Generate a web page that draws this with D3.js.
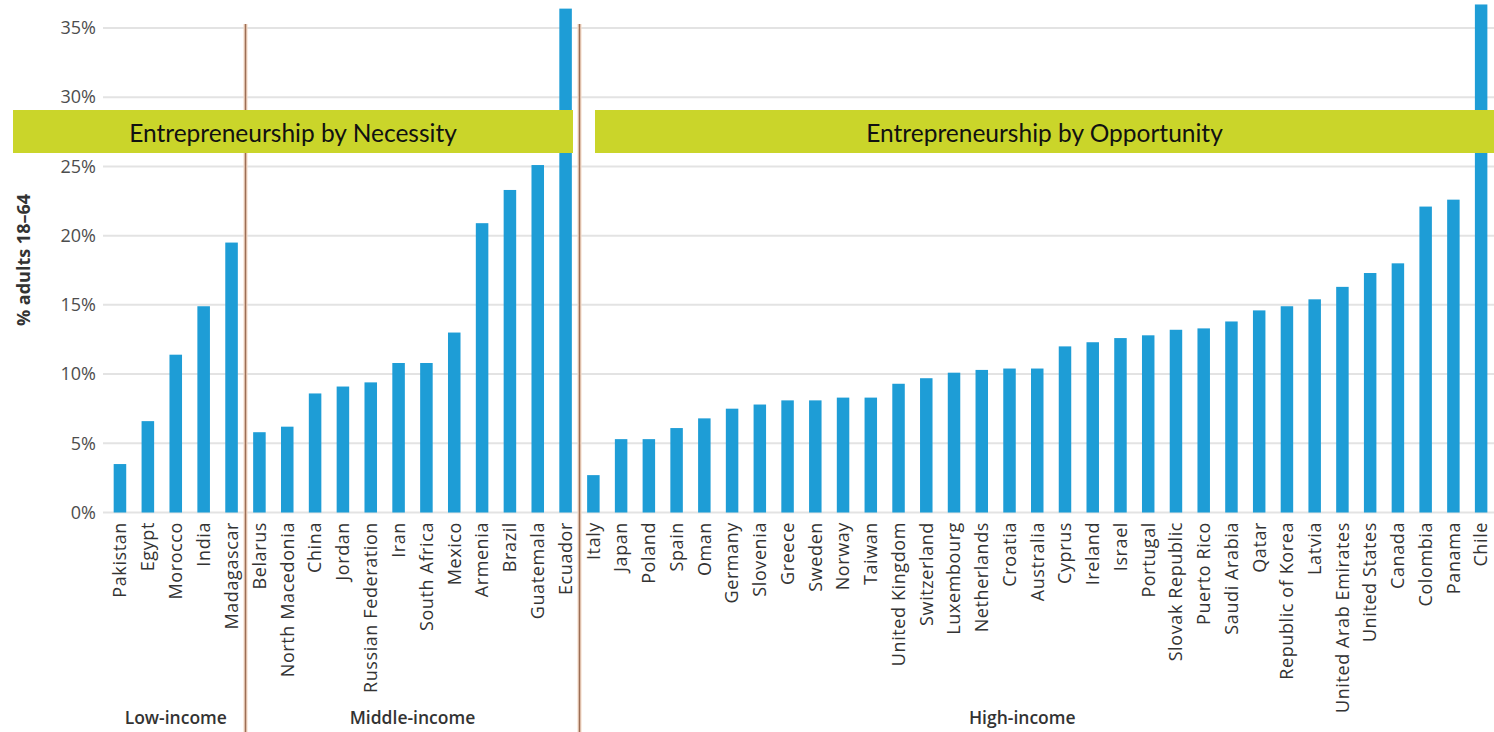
<!DOCTYPE html>
<html>
<head>
<meta charset="utf-8">
<script src="https://cdn.jsdelivr.net/npm/d3@7"></script>
<style>
  body { margin: 0; background: #fff; }
  svg { display: block; }
</style>
</head>
<body>
<div id="chart"></div>
<script>
// data (% adults 18-64)
var lowCountries = ["Pakistan", "Egypt", "Morocco", "India", "Madagascar"]
var lowValues = [3.5, 6.6, 11.4, 14.9, 19.5]

var midCountries = ["Belarus", "North Macedonia", "China", "Jordan", "Russian Federation", "Iran",
  "South Africa", "Mexico", "Armenia", "Brazil", "Guatemala", "Ecuador"]
var midValues = [5.8, 6.2, 8.6, 9.1, 9.4, 10.8, 10.8, 13.0, 20.9, 23.3, 25.1, 36.4]

var highCountries = ["Italy", "Japan", "Poland", "Spain", "Oman", "Germany", "Slovenia", "Greece",
  "Sweden", "Norway", "Taiwan", "United Kingdom", "Switzerland", "Luxembourg", "Netherlands",
  "Croatia", "Australia", "Cyprus", "Ireland", "Israel", "Portugal", "Slovak Republic",
  "Puerto Rico", "Saudi Arabia", "Qatar", "Republic of Korea", "Latvia", "United Arab Emirates",
  "United States", "Canada", "Colombia", "Panama", "Chile"]
var highValues = [2.7, 5.3, 5.3, 6.1, 6.8, 7.5, 7.8, 8.1, 8.1, 8.3, 8.3, 9.3, 9.7, 10.1, 10.3,
  10.4, 10.4, 12.0, 12.3, 12.6, 12.8, 13.2, 13.3, 13.8, 14.6, 14.9, 15.4, 16.3, 17.3, 18.0,
  22.1, 22.6, 36.7]

var groupLabels = ["Low-income", "Middle-income", "High-income"]
var bannerLabels = ["Entrepreneurship by Necessity", "Entrepreneurship by Opportunity"]
var yTicks = [0, 5, 10, 15, 20, 25, 30, 35]
var yTitle = "% adults 18\u201364"

/////////////

var w = 1494
var h = 732
var left = 103

var svg = d3.select("#chart")
  .append("svg")
  .attr("width", w)
  .attr("height", h)

var y = d3.scaleLinear().domain([0, 35]).range([512.5, 28])

// gridlines
svg.append("g")
  .selectAll("line")
  .data(yTicks)
  .join("line")
  .attr("x1", left)
  .attr("x2", w)
  .attr("y1", function(d) { return y(d) })
  .attr("y2", function(d) { return y(d) })
  .attr("stroke", "#e3e3e3")
  .attr("stroke-width", 2)

// y axis labels
var yAxis = d3.axisLeft(y).tickValues(yTicks).tickSize(0).tickPadding(6)
  .tickFormat(function(d) { return d + "%" })
svg.append("g")
  .attr("transform", "translate(" + (left - 1) + ",0)")
  .call(yAxis)
  .call(function(g) { g.select(".domain").remove() })
  .selectAll("text")
  .attr("font-family", "Open Sans")
  .attr("font-size", 18)
  .attr("fill", "#4d4d4d")

svg.append("text")
  .attr("transform", "translate(24,260) rotate(-90)")
  .attr("text-anchor", "middle")
  .attr("dy", "0.35em")
  .attr("font-family", "Open Sans")
  .attr("font-weight", "bold")
  .attr("font-size", 18)
  .attr("fill", "#333")
  .text(yTitle)

// one panel per income group
var panels = [
  { name: groupLabels[0], countries: lowCountries, values: lowValues, x0: 106, x1: 245.5 },
  { name: groupLabels[1], countries: midCountries, values: midValues, x0: 245.5, x1: 579.5 },
  { name: groupLabels[2], countries: highCountries, values: highValues, x0: 579.5, x1: 1495 }
]

panels.forEach(function(p, k) {
  var x = d3.scaleBand()
    .domain(p.countries)
    .range([p.x0, p.x1])
    .paddingInner(0.55)
    .paddingOuter(0.275)

  var g = svg.append("g")

  g.selectAll("rect")
    .data(p.countries)
    .join("rect")
    .attr("x", function(d) { return x(d) })
    .attr("width", x.bandwidth())
    .attr("y", function(d, i) { return y(p.values[i]) })
    .attr("height", function(d, i) { return y(0) - y(p.values[i]) })
    .attr("fill", "#1e9dd6")

  g.selectAll("text.country")
    .data(p.countries)
    .join("text")
    .attr("class", "country")
    .attr("transform", function(d) { return "translate(" + (x(d) + x.bandwidth() / 2) + ",522) rotate(-90)" })
    .attr("text-anchor", "end")
    .attr("dy", "0.35em")
    .attr("font-family", "Open Sans")
    .attr("font-size", 18)
    .attr("letter-spacing", 0.6)
    .attr("fill", "#333")
    .text(function(d) { return d })

  var mid = k == 2 ? (p.x0 + p.x1) / 2 - 15 : (p.x0 + p.x1) / 2
  g.append("text")
    .attr("x", mid)
    .attr("y", 718)
    .attr("text-anchor", "middle")
    .attr("dy", "0.35em")
    .attr("font-family", "Open Sans")
    .attr("font-weight", 600)
    .attr("font-size", 17.5)
    .attr("fill", "#333")
    .text(p.name)

  // separator between groups
  if (k > 0) {
    svg.append("line")
      .attr("x1", p.x0)
      .attr("x2", p.x0)
      .attr("y1", 24)
      .attr("y2", h)
      .attr("stroke", "#f3d9c6")
      .attr("stroke-width", 4)
    svg.append("line")
      .attr("x1", p.x0)
      .attr("x2", p.x0)
      .attr("y1", 24)
      .attr("y2", h)
      .attr("stroke", "#9c6e55")
      .attr("stroke-width", 1.5)
  }
})

// banners on top
var banners = [
  { label: bannerLabels[0], x0: 13, x1: 573 },
  { label: bannerLabels[1], x0: 595, x1: w }
]
var bg = svg.append("g")
bg.selectAll("rect")
  .data(banners)
  .join("rect")
  .attr("x", function(d) { return d.x0 })
  .attr("width", function(d) { return d.x1 - d.x0 })
  .attr("y", 110)
  .attr("height", 43)
  .attr("fill", "#cad52a")
bg.selectAll("text")
  .data(banners)
  .join("text")
  .attr("x", function(d) { return (d.x0 + d.x1) / 2 })
  .attr("y", 142)
  .attr("text-anchor", "middle")
  .attr("font-family", "Lato")
  .attr("font-size", 24.5)
  .attr("fill", "#111")
  .text(function(d) { return d.label })
</script>
</body>
</html>
